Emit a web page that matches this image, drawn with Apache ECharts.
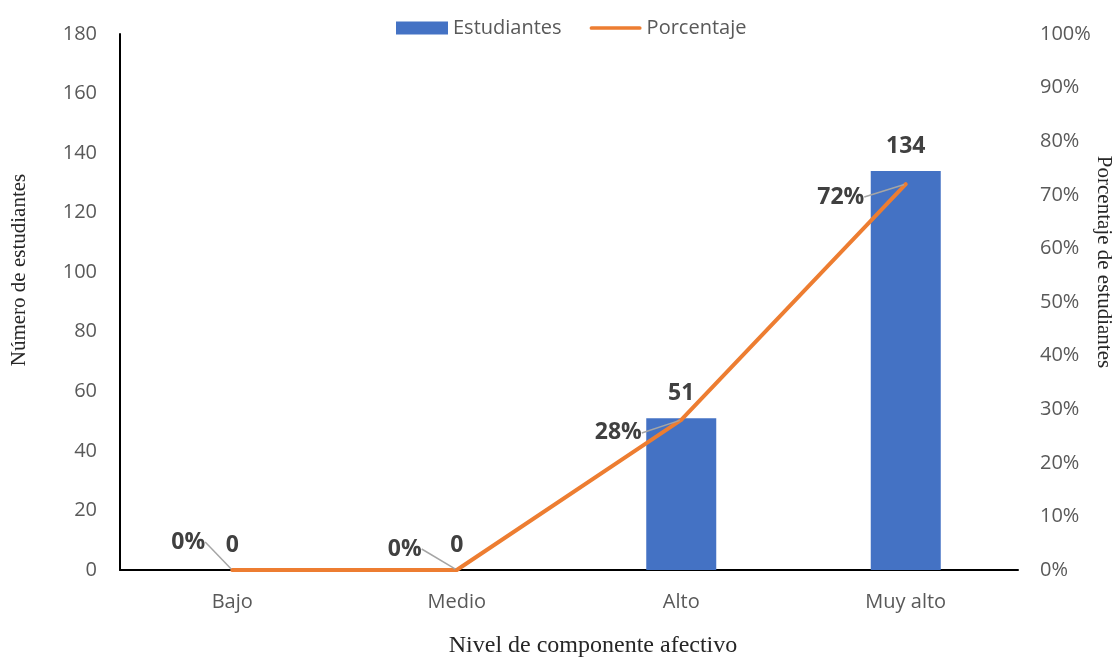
<!DOCTYPE html>
<html><head><meta charset="utf-8">
<script src="https://cdn.jsdelivr.net/npm/echarts@6/dist/echarts.min.js"></script>
<style>html,body{margin:0;padding:0;background:#fff;overflow:hidden}#c{width:1115px;height:657px}</style>
</head><body><div id="c"></div>
<script>
const categories = ['Bajo', 'Medio', 'Alto', 'Muy alto'];
const estudiantes = [0, 0, 51, 134];
const porcentaje = [0, 0, 0.28, 0.72];
const leftTicks = {min: 0, max: 180, interval: 20};
const rightTicks = {min: 0, max: 1, interval: 0.1};

const pctLabelOffsets = [[-44, -28], [-52, -21], [-63, 13], [-65, 13]];

const chart = echarts.init(document.getElementById('c'), null, {renderer: 'canvas'});
const sans = 'Open Sans, Liberation Sans, sans-serif';
const serif = 'Liberation Serif, Times New Roman, serif';
const tickFont = {fontFamily: sans, fontSize: 20, color: '#595959'};
const titleFont = {fontFamily: serif, fontSize: 21, color: '#262626'};
chart.setOption({
  animation: false,
  backgroundColor: '#fff',
  grid: {left: 120, right: 97, top: 34, bottom: 87, containLabel: false, outerBoundsMode: 'none'},
  legend: {
    top: 13, left: 391, itemGap: 28, itemWidth: 52, itemHeight: 13,
    textStyle: {fontFamily: sans, fontSize: 20, color: '#595959'},
    data: [
      {name: 'Estudiantes', icon: 'rect'},
      {name: 'Porcentaje', icon: 'path://M2,0 L54,0 A2,2 0 0 1 54,4 L2,4 A2,2 0 0 1 2,0 Z'}
    ]
  },
  xAxis: {
    type: 'category', data: categories,
    axisLine: {show: true, lineStyle: {color: '#000', width: 2}},
    axisTick: {show: false},
    axisLabel: Object.assign({margin: 22}, tickFont),
    name: 'Nivel de componente afectivo', nameLocation: 'middle', nameGap: 64, nameMoveOverlap: false,
    nameTextStyle: Object.assign({}, titleFont, {fontSize: 24, padding: [0, 0, 0, 48]})
  },
  yAxis: [{
    type: 'value', min: leftTicks.min, max: leftTicks.max, interval: leftTicks.interval,
    axisLine: {show: true, lineStyle: {color: '#000', width: 2}},
    axisTick: {show: false}, splitLine: {show: false},
    axisLabel: Object.assign({margin: 23}, tickFont),
    name: 'Número de estudiantes', nameLocation: 'middle', nameGap: 90, nameRotate: 90, nameMoveOverlap: false,
    nameTextStyle: Object.assign({}, titleFont, {padding: [0, 0, 0, 64]})
  }, {
    type: 'value', min: rightTicks.min, max: rightTicks.max, interval: rightTicks.interval,
    position: 'right',
    axisLine: {show: false}, axisTick: {show: false}, splitLine: {show: false},
    axisLabel: Object.assign({margin: 22, formatter: v => Math.round(v * 100) + '%'}, tickFont),
    name: 'Porcentaje de estudiantes', nameLocation: 'middle', nameGap: 75, nameRotate: -90, nameMoveOverlap: false,
    nameTextStyle: Object.assign({}, titleFont, {padding: [0, 80, 0, 0]})
  }],
  series: [{
    name: 'Estudiantes', type: 'bar', data: estudiantes, barWidth: 70, yAxisIndex: 0,
    itemStyle: {color: '#4472C4'},
    label: {show: true, position: 'top', distance: 13, fontFamily: sans,
      fontSize: 23, fontWeight: 'bold', color: '#404040'}
  }, {
    name: 'Porcentaje', type: 'line', data: porcentaje, yAxisIndex: 1,
    symbol: 'circle', showSymbol: true, symbolSize: 3,
    lineStyle: {color: '#ED7D31', width: 4, cap: 'round', join: 'round'}, itemStyle: {color: '#ED7D31'},
    z: 5,
    label: {show: true, position: 'inside', formatter: p => Math.round(p.value * 100) + '%',
      fontFamily: sans, fontSize: 23, fontWeight: 'bold', color: '#404040'},
    labelLine: {show: true, lineStyle: {color: '#A5A5A5', width: 1.5}},
    labelLayout: p => ({dx: pctLabelOffsets[p.dataIndex][0], dy: pctLabelOffsets[p.dataIndex][1]})
  }]
});
</script></body></html>
